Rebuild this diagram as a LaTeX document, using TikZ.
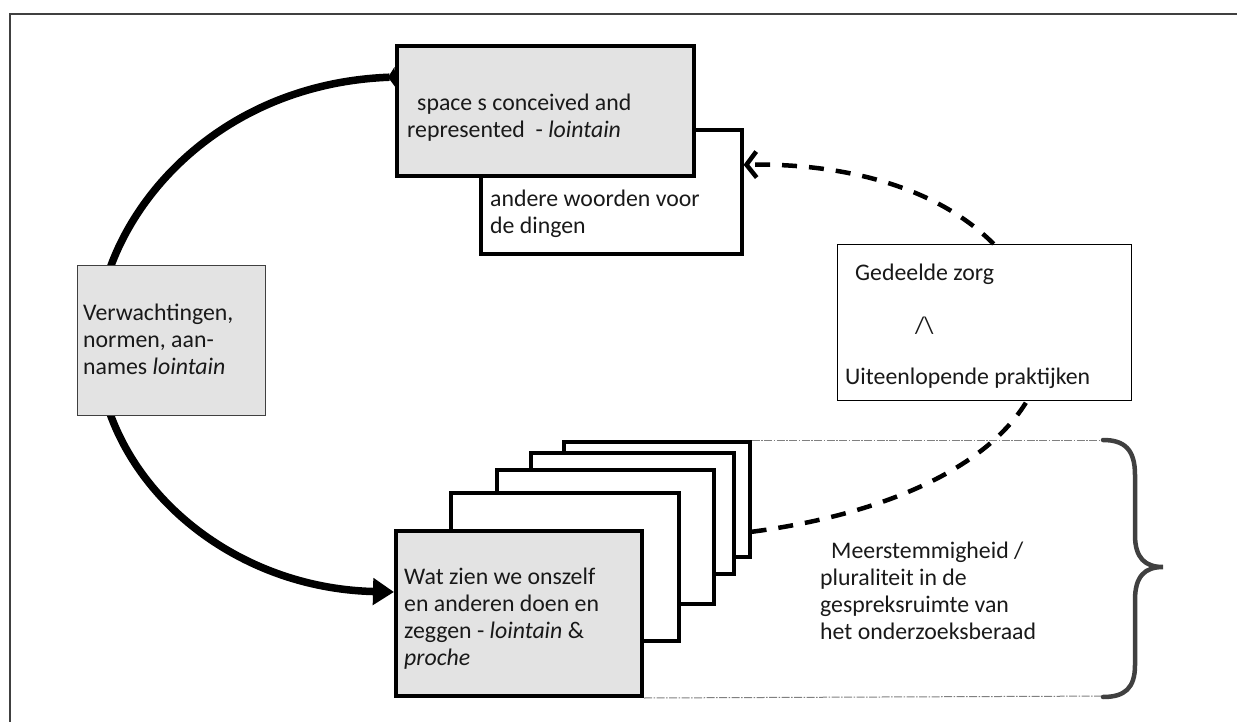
\documentclass[tikz,border=0pt]{standalone}
\usepackage{fontspec}
\setmainfont{Carlito}
\usetikzlibrary{arrows.meta}
\definecolor{boxgray}{RGB}{227,227,227}
\definecolor{txt}{RGB}{25,25,25}
\definecolor{framec}{RGB}{64,64,64}
\begin{document}
\begin{tikzpicture}[x=1pt,y=-1pt,
  every node/.style={font=\fontsize{23.8}{27}\selectfont, text=txt},
  gbox/.style={draw=black, line width=4pt, fill=boxgray, inner sep=0pt, anchor=north west},
  wbox/.style={draw=black, line width=3.6pt, fill=white, inner sep=0pt, anchor=north west},
  lbl/.style={inner sep=0pt, anchor=north west, align=left},
  thickarc/.style={line width=7.5pt, black},
  dashline/.style={line width=4.5pt, black, dash pattern=on 15pt off 12pt},
  dotline/.style={line width=1pt, gray, dash pattern=on 8pt off 1.5pt on 1.5pt off 1.5pt},
  bracec/.style={line width=4.5pt, framec, line cap=round}
]
\useasboundingbox (0,0) rectangle (1237,722);
\draw[framec, line width=1.5pt] (10,722) -- (10,14) -- (1237,14);

% boxes
\node[wbox, minimum width=261pt, minimum height=124pt] (aw) at (479,128) {};
\node[gbox, minimum width=297pt, minimum height=130pt] (sp) at (395,44) {};
\node[wbox, minimum width=186pt, minimum height=115pt] (s5) at (562,440) {};
\node[wbox, minimum width=203pt, minimum height=121pt] (s4) at (529,451) {};
\node[wbox, minimum width=217pt, minimum height=134pt] (s3) at (495,468) {};
\node[wbox, minimum width=228pt, minimum height=148pt] (s2) at (449,491) {};
\node[gbox, minimum width=246pt, minimum height=165pt] (wz) at (394,529) {};

% thick arc behind left box
\draw[thickarc, {Triangle[reversed,length=7pt,width=20pt]}-{Triangle[length=21pt,width=26pt]}]
  ([yshift=34pt]sp.west) .. controls (210,84) and (100,220) .. (97,335)
  .. controls (94,470) and (220,588) .. ([yshift=21.5pt]wz.west);

\node[draw=framec, line width=1pt, fill=boxgray, minimum width=188pt, minimum height=150pt,
  anchor=north west, inner sep=0pt] (vn) at (77,265) {};

\node[draw=black, line width=1.4pt, fill=white, minimum width=294pt, minimum height=156pt,
  anchor=north west, inner sep=0pt] (gz) at (837,244) {};

% dashed connector
\draw[dashline] ([yshift=-32.5pt]s5.east) .. controls (880,515) and (985,470) .. ([xshift=42pt]gz.south);
\draw[dashline, -{Straight Barb[length=10pt,width=26pt]}] ([xshift=9pt]gz.north)
  .. controls (935,185) and (840,163) .. ([yshift=27pt]aw.east);

% dotted guide lines and brace
\coordinate (bt) at (1107,440);
\coordinate (bb) at (1118,696);
\draw[dotline] (s5.north east) -- (bt);
\draw[dotline] (wz.south east) -- (bb);
\draw[bracec] (1103,440) .. controls (1125,440) and (1135,450) .. (1135,475) -- (1135,535)
  .. controls (1135,558) and (1145,567) .. (1163,567)
  .. controls (1145,567) and (1135,576) .. (1135,600) -- (1135,665)
  .. controls (1135,688) and (1125,697) .. (1103,697);

% texts
\node[lbl] (tsp) at (407,91.1) {\strut\hspace*{10pt}space s conceived and\\represented\ \ - \textit{lointain}};
\node[lbl] (taw) at (490,187.1) {\strut andere woorden voor\\de dingen};
\node[lbl] (tvn) at (83,301.1) {\strut Verwachtingen,\\normen, aan-\\names \textit{lointain}};
\node[lbl] (twz) at (404,565.1) {\strut Wat zien we onszelf\\en anderen doen en\\zeggen - \textit{lointain} \&\\\textit{proche}};
\node[lbl] (tms) at (820,539.1) {\strut\hspace*{11pt}Meerstemmigheid /\\pluraliteit in de\\gespreksruimte van\\het onderzoeksberaad};
\node[lbl] (tg1) at (855,261.1) {\strut Gedeelde zorg};
\node[lbl] (tg2) at (915,314.1) {\strut /\textbackslash};
\node[lbl] (tg3) at (845,365.1) {\strut Uiteenlopende praktijken};
\end{tikzpicture}
\end{document}
